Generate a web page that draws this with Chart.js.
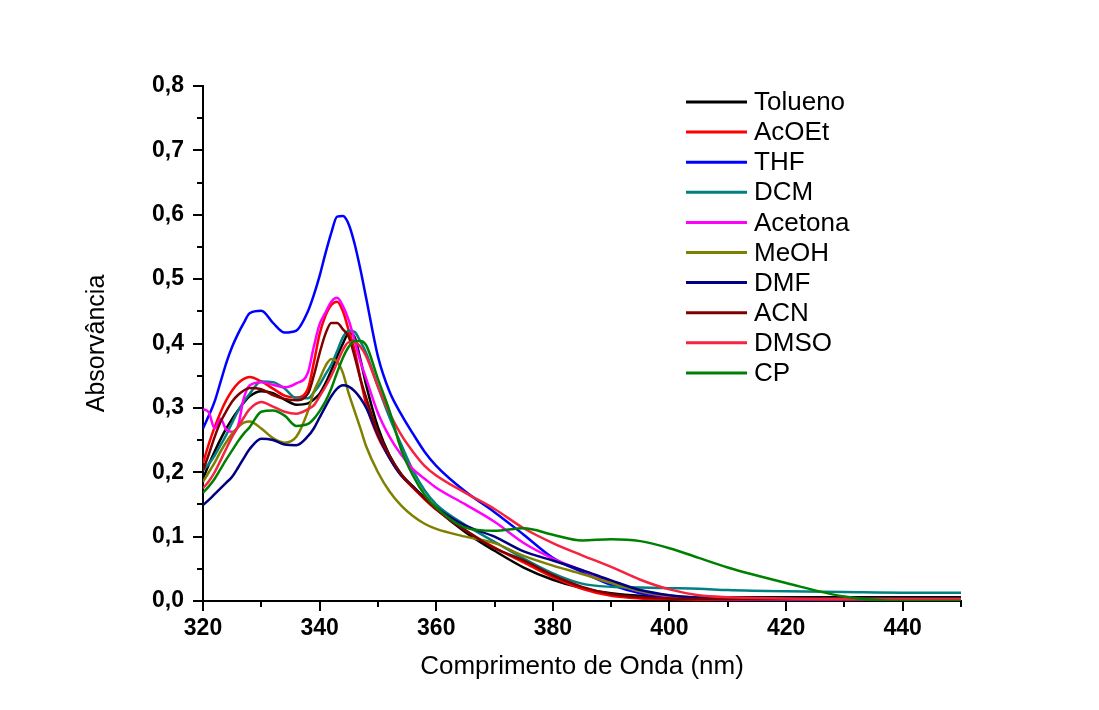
<!DOCTYPE html>
<html>
<head>
<meta charset="utf-8">
<script src="https://cdn.jsdelivr.net/npm/chart.js@4"></script>
<style>
  body { margin: 0; background: #fff; }
  #wrap { width: 1099px; height: 710px; position: relative; }
</style>
</head>
<body>
<div id="wrap"><canvas id="absChart"></canvas></div>
<script>
const wavelength = [320,321,322,323,324,325,326,327,328,330,332,334,336,338,339,340,341,342,343,344,345,346,347,348,350,352,354,356,358,360,365,370,375,380,385,390,395,400,405,410,420,430,440,450];

const tolueno = [0.190,0.212,0.232,0.251,0.268,0.283,0.296,0.308,0.318, 0.326,0.323,0.313,0.305,0.307, 0.313,0.322,0.338,0.358,0.380,0.400,0.416,0.410,0.375,0.335, 0.270,0.226,0.197,0.178,0.160,0.143, 0.107,0.078,0.052,0.033,0.020,0.012,0.008,0.007,0.006,0.006, 0.006,0.006,0.006,0.006];
const acoet = [0.214,0.244,0.270,0.293,0.312,0.327,0.338,0.345,0.348, 0.341,0.330,0.319,0.316,0.330, 0.370,0.415,0.443,0.460,0.465,0.450,0.420,0.390,0.345,0.305, 0.255,0.222,0.195,0.176,0.158,0.142, 0.110,0.083,0.060,0.037,0.019,0.008,0.004,0.003,0.002,0.002, 0.002,0.002,0.002,0.002];
const thf = [0.268,0.288,0.310,0.340,0.370,0.395,0.415,0.432,0.447, 0.451,0.432,0.417,0.420,0.450, 0.475,0.505,0.540,0.572,0.597,0.598,0.585,0.555,0.515,0.470, 0.380,0.325,0.290,0.260,0.232,0.210, 0.170,0.138,0.103,0.067,0.045,0.025,0.012,0.006,0.004,0.003, 0.003,0.003,0.003,0.003];
const dcm = [0.203,0.213,0.226,0.242,0.258,0.277,0.295,0.310,0.322, 0.341,0.340,0.330,0.315,0.315, 0.324,0.336,0.352,0.367,0.388,0.410,0.420,0.418,0.403,0.385, 0.333,0.285,0.243,0.203,0.172,0.150, 0.118,0.092,0.066,0.043,0.027,0.022,0.021,0.020,0.019,0.017, 0.015,0.014,0.013,0.013];
const acetona = [0.298,0.293,0.268,0.283,0.266,0.263,0.272,0.315,0.335, 0.340,0.336,0.332,0.338,0.355, 0.395,0.430,0.448,0.465,0.471,0.458,0.436,0.405,0.372,0.345, 0.292,0.255,0.227,0.205,0.190,0.176, 0.150,0.123,0.090,0.066,0.048,0.030,0.015,0.007,0.004,0.003, 0.002,0.002,0.002,0.002];
const meoh = [0.185,0.200,0.215,0.232,0.247,0.260,0.270,0.277,0.279, 0.268,0.253,0.246,0.255,0.295, 0.325,0.345,0.365,0.376,0.372,0.354,0.322,0.295,0.268,0.240, 0.200,0.170,0.148,0.132,0.120,0.112, 0.100,0.090,0.070,0.055,0.042,0.028,0.015,0.008,0.005,0.004, 0.003,0.003,0.003,0.003];
const dmf = [0.149,0.157,0.166,0.175,0.184,0.193,0.207,0.222,0.236, 0.252,0.250,0.243,0.242,0.256, 0.268,0.285,0.302,0.318,0.330,0.335,0.333,0.326,0.315,0.300, 0.258,0.222,0.195,0.178,0.160,0.145, 0.117,0.100,0.077,0.063,0.048,0.032,0.017,0.009,0.005,0.004, 0.003,0.003,0.003,0.003];
const acn = [0.203,0.228,0.255,0.278,0.295,0.310,0.320,0.327,0.331, 0.329,0.320,0.314,0.312,0.322, 0.350,0.385,0.415,0.432,0.432,0.422,0.410,0.380,0.345,0.315, 0.262,0.226,0.197,0.177,0.160,0.143, 0.110,0.082,0.063,0.040,0.022,0.011,0.006,0.004,0.003,0.003, 0.003,0.003,0.003,0.003];
const dmso = [0.175,0.186,0.200,0.218,0.237,0.255,0.270,0.285,0.298, 0.309,0.302,0.294,0.291,0.298, 0.304,0.318,0.333,0.350,0.370,0.390,0.402,0.402,0.395,0.380, 0.333,0.292,0.258,0.232,0.210,0.195, 0.168,0.143,0.113,0.090,0.071,0.053,0.033,0.018,0.009,0.006, 0.004,0.003,0.003,0.003];
const cp = [0.168,0.178,0.190,0.205,0.220,0.234,0.248,0.260,0.270, 0.294,0.296,0.288,0.272,0.275, 0.283,0.295,0.310,0.330,0.355,0.378,0.395,0.404,0.404,0.397, 0.345,0.295,0.235,0.195,0.165,0.145, 0.114,0.109,0.113,0.103,0.094,0.096,0.093,0.082,0.067,0.052, 0.028,0.007,0.000,0.000];

const seriesNames = ['Tolueno', 'AcOEt', 'THF', 'DCM', 'Acetona', 'MeOH', 'DMF', 'ACN', 'DMSO', 'CP'];
const seriesValues = [tolueno, acoet, thf, dcm, acetona, meoh, dmf, acn, dmso, cp];
const seriesColors = ['#000000', '#ff0000', '#0000ff', '#008080', '#ff00ff', '#808000', '#000080', '#800000', '#f5233f', '#008000'];

const yTicks = [0, 0.1, 0.2, 0.3, 0.4, 0.5, 0.6, 0.7, 0.8];

Chart.defaults.font.family = '"Liberation Sans", Arial, sans-serif';
Chart.defaults.color = '#000';

// short minor ticks between the labelled ones
const minorTicks = {
    id: 'minorTicks',
    afterDraw(chart) {
        const { ctx, scales: { x, y } } = chart;
        ctx.save();
        ctx.strokeStyle = '#000';
        ctx.lineWidth = 2;
        ctx.beginPath();
        for (let v = 330; v <= 450; v += 20) {
            const px = Math.round(x.getPixelForValue(v));
            ctx.moveTo(px, y.bottom);
            ctx.lineTo(px, y.bottom + 6);
        }
        for (let i = 0; i < yTicks.length - 1; i++) {
            const py = Math.round(y.getPixelForValue((yTicks[i] + yTicks[i + 1]) / 2));
            ctx.moveTo(x.left, py);
            ctx.lineTo(x.left - 6, py);
        }
        ctx.stroke();
        ctx.restore();
    }
};

// legend inside the plot, top right
const insideLegend = {
    id: 'insideLegend',
    afterDraw(chart) {
        const ctx = chart.ctx;
        ctx.save();
        ctx.font = '26px "Liberation Sans", Arial, sans-serif';
        ctx.textBaseline = 'middle';
        ctx.fillStyle = '#000';
        chart.data.datasets.forEach((ds, i) => {
            const yy = 102 + i * 30.1;
            ctx.strokeStyle = ds.borderColor;
            ctx.lineWidth = 3;
            ctx.beginPath();
            ctx.moveTo(686, yy);
            ctx.lineTo(747, yy);
            ctx.stroke();
            ctx.fillText(ds.label, 754, yy + 1);
        });
        ctx.restore();
    }
};

new Chart(document.getElementById('absChart'), {
    type: 'line',
    data: {
        datasets: seriesNames.map((name, i) => ({
            label: name,
            data: wavelength.map((w, j) => ({ x: w, y: seriesValues[i][j] })),
            borderColor: seriesColors[i],
            backgroundColor: seriesColors[i],
            borderWidth: 2.5,
            pointRadius: 0,
            cubicInterpolationMode: 'monotone',
            order: seriesNames.length - i
        }))
    },
    options: {
        responsive: true,
        maintainAspectRatio: false,
        animation: false,
        layout: { padding: { left: 0, right: 138, top: 86, bottom: 20 } },
        scales: {
            x: {
                type: 'linear',
                min: 320,
                max: 450,
                afterFit(scale) { scale.height = 89; },
                ticks: {
                    stepSize: 20,
                    includeBounds: false,
                    padding: 4,
                    font: { size: 23, weight: 'bold' }
                },
                grid: { drawOnChartArea: false, color: '#000', lineWidth: 2, tickLength: 10 },
                border: { display: true, color: '#000', width: 2 },
                title: {
                    display: true,
                    text: 'Comprimento de Onda (nm)',
                    font: { size: 26 },
                    padding: { top: 0, bottom: 8 }
                }
            },
            y: {
                min: 0,
                max: 0.8,
                afterFit(scale) { scale.width = 203; },
                afterBuildTicks(scale) { scale.ticks = yTicks.map(v => ({ value: v })); },
                ticks: {
                    padding: 9,
                    font: { size: 23, weight: 'bold' },
                    callback: v => v.toFixed(1).replace('.', ',')
                },
                grid: { drawOnChartArea: false, color: '#000', lineWidth: 2, tickLength: 10 },
                border: { display: true, color: '#000', width: 2 },
                title: {
                    display: true,
                    text: 'Absorvância',
                    font: { size: 25 },
                    padding: { top: 82, bottom: 0 }
                }
            }
        },
        plugins: {
            legend: { display: false },
            tooltip: { enabled: false }
        }
    },
    plugins: [minorTicks, insideLegend]
});
</script>
</body>
</html>
